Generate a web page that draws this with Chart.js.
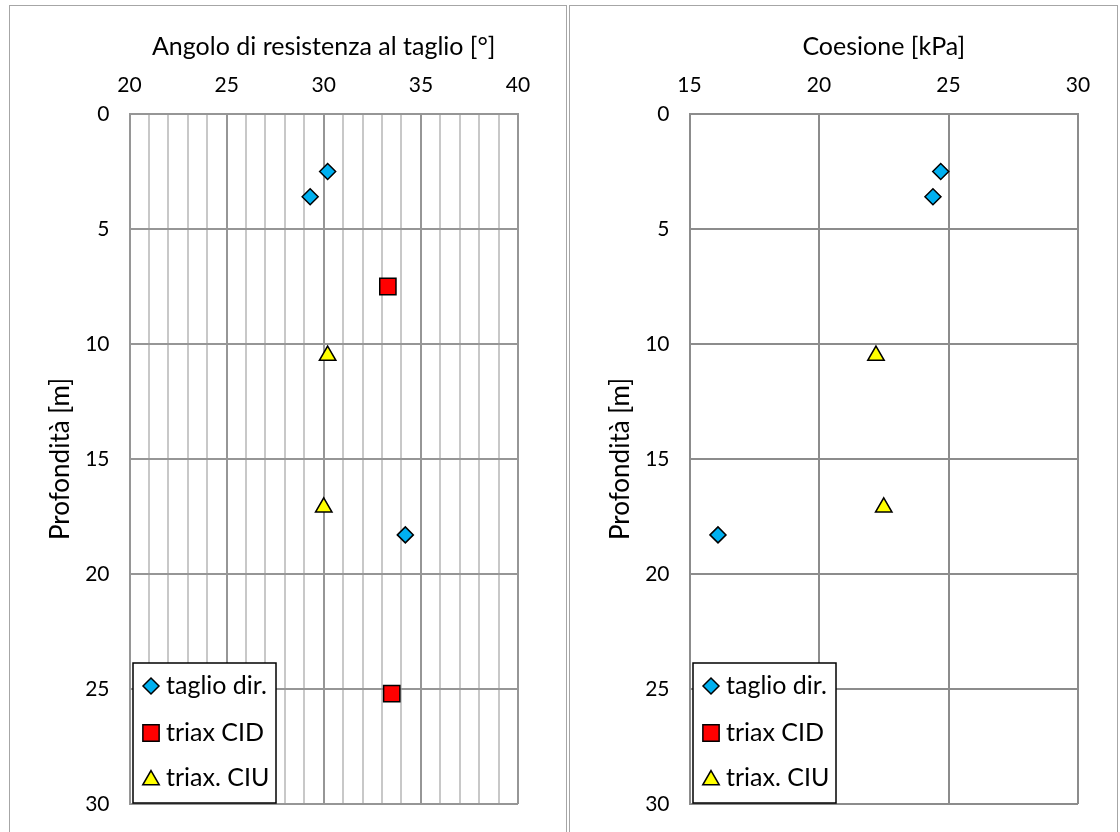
<!DOCTYPE html>
<html>
<head>
<meta charset="utf-8">
<script src="https://cdn.jsdelivr.net/npm/chart.js@4/dist/chart.umd.min.js"></script>
<style>
  body { margin: 0; background: #fff; width: 1120px; height: 832px; overflow: hidden; position: relative; }
  .box { position: absolute; top: 5px; height: 840px; border: 1.5px solid #a6a6a6; box-sizing: border-box; background: #fff; }
  #boxL { left: 9px; width: 558px; }
  #boxR { left: 569px; width: 549px; }
  canvas { display: block; }
</style>
</head>
<body>
<div class="box" id="boxL"><canvas id="chartL"></canvas></div>
<div class="box" id="boxR"><canvas id="chartR"></canvas></div>
<script>
// --- data ---
const seriesNames = ['taglio dir.', 'triax CID', 'triax. CIU'];

const angleTaglio = [30.2, 29.3, 34.2];
const depthTaglio = [2.5, 3.6, 18.3];
const angleCID = [33.3, 33.5];
const depthCID = [7.5, 25.2];
const angleCIU = [30.2, 30.0];
const depthCIU = [10.5, 17.1];

const cohTaglio = [24.7, 24.4, 16.1];
const cohDepthTaglio = [2.5, 3.6, 18.3];
const cohCID = [];
const cohDepthCID = [];
const cohCIU = [22.2, 22.5];
const cohDepthCIU = [10.5, 17.1];

const FONT = "Lato, 'Open Sans', sans-serif";

function pts(xs, ys) { return xs.map((x, i) => ({ x: x, y: ys[i] })); }

function makeDatasets(tx, ty, cx, cy, ux, uy) {
    return [
        { label: seriesNames[0], data: pts(tx, ty), pointStyle: 'rectRot', pointRadius: 8, pointHoverRadius: 8,
          backgroundColor: '#00B0F0', borderColor: '#000', pointBorderWidth: 1.5, showLine: false },
        { label: seriesNames[1], data: pts(cx, cy), pointStyle: 'rect', pointRadius: 11.5, pointHoverRadius: 11.5,
          backgroundColor: '#FF0000', borderColor: '#000', pointBorderWidth: 1.5, showLine: false },
        { label: seriesNames[2], data: pts(ux, uy), pointStyle: 'triangle', pointRadius: 9.5, pointHoverRadius: 9.5,
          backgroundColor: '#FFFF00', borderColor: '#000', pointBorderWidth: 1.5, showLine: false }
    ];
}

// legend drawn inside the plot, bottom-left, with a black frame
const insideLegend = {
    id: 'insideLegend',
    afterDraw(chart) {
        const ctx = chart.ctx; const a = chart.chartArea;
        const bx = a.left + 3.5, by = a.bottom - 141, bw = 143, bh = 140;
        ctx.save();
        ctx.fillStyle = '#fff'; ctx.fillRect(bx, by, bw, bh);
        ctx.lineWidth = 1.5; ctx.strokeStyle = '#000'; ctx.strokeRect(bx, by, bw, bh);
        const rows = [23, 70, 115];
        chart.data.datasets.forEach((ds, i) => {
            const cy = by + rows[i];
            ctx.fillStyle = ds.backgroundColor; ctx.strokeStyle = '#000'; ctx.lineWidth = 1.5;
            Chart.helpers.drawPoint(ctx, { pointStyle: ds.pointStyle, radius: ds.pointRadius, borderWidth: 1.5, rotation: 0 }, bx + 18, cy + (ds.pointStyle === 'triangle' ? 2 : 0));
            ctx.fillStyle = '#000'; ctx.font = '25px ' + FONT; ctx.textBaseline = 'middle'; ctx.textAlign = 'left';
            ctx.fillText(ds.label, bx + 33, cy);
        });
        ctx.restore();
    }
};

function makeChart(id, datasets, xMin, xMax, xStep, xTitle, minorColor, majorColor, rightPad) {
    return new Chart(document.getElementById(id), {
        type: 'scatter',
        data: { datasets: datasets },
        options: {
            responsive: true, maintainAspectRatio: false, animation: false,
            layout: { padding: { left: 0, right: rightPad, top: 0, bottom: 40 } },
            plugins: { legend: { display: false }, tooltip: { enabled: false } },
            scales: {
                x: {
                    type: 'linear', position: 'top', min: xMin, max: xMax,
                    ticks: { stepSize: xStep, autoSkip: false, maxRotation: 0, padding: 16, color: '#000',
                             font: { family: FONT, size: 21 },
                             callback: v => (v % 5 === 0 ? v : '') },
                    grid: { drawTicks: false, lineWidth: 2,
                            color: c => (c.tick && c.tick.value % 5 === 0 ? majorColor : minorColor) },
                    border: { color: majorColor, width: 2 },
                    title: { display: true, text: xTitle, color: '#000', font: { family: FONT, size: 25 }, padding: { top: 26, bottom: 0 } },
                    afterFit: s => { s.height = 108; }
                },
                y: {
                    type: 'linear', reverse: true, min: 0, max: 30,
                    ticks: { stepSize: 5, padding: 20, color: '#000', font: { family: FONT, size: 21 } },
                    grid: { drawTicks: false, lineWidth: 2, color: majorColor },
                    border: { color: majorColor, width: 2 },
                    title: { display: true, text: 'Profondità [m]', color: '#000', font: { family: FONT, size: 26 }, padding: { top: 35, bottom: 0 } },
                    afterFit: s => { s.width = 119.5; }
                }
            }
        },
        plugins: [insideLegend]
    });
}

makeChart('chartL', makeDatasets(angleTaglio, depthTaglio, angleCID, depthCID, angleCIU, depthCIU),
    20, 40, 1, 'Angolo di resistenza al taglio [°]', '#c8c8c8', '#969696', 48);
makeChart('chartR', makeDatasets(cohTaglio, cohDepthTaglio, cohCID, cohDepthCID, cohCIU, cohDepthCIU),
    15, 30, 5, 'Coesione [kPa]', '#8c8c8c', '#8c8c8c', 39);
</script>
</body>
</html>
